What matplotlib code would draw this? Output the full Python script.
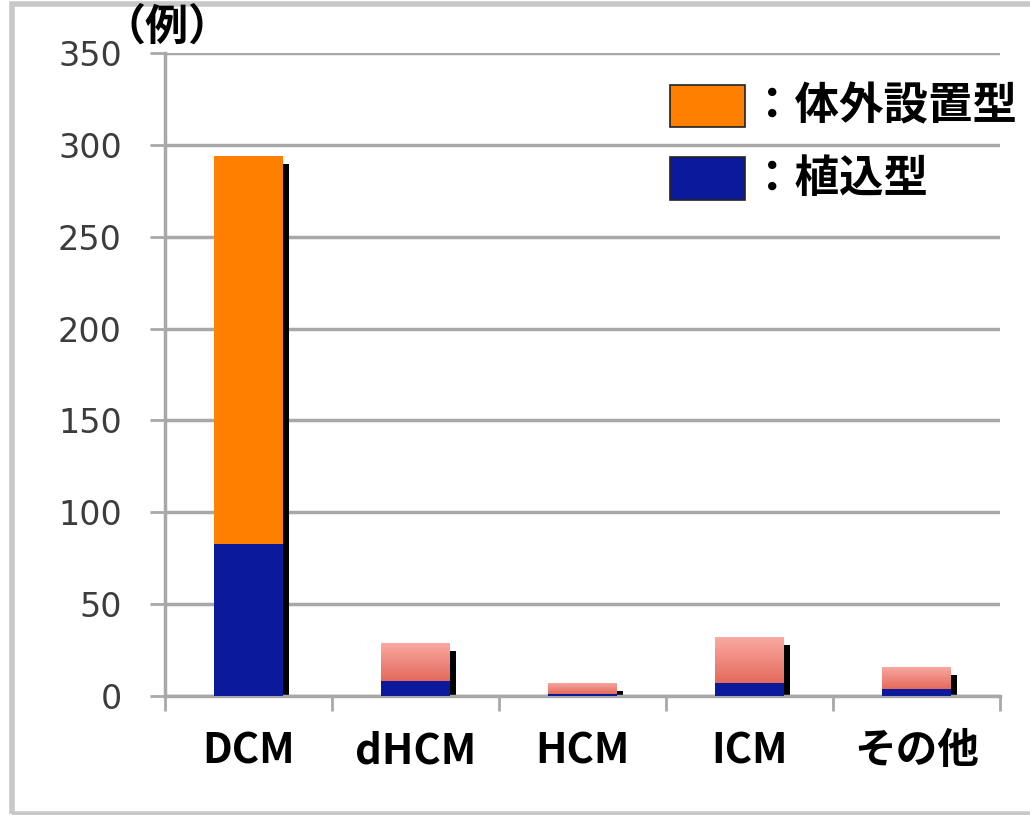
import matplotlib
matplotlib.use("Agg")
import matplotlib.pyplot as plt
import matplotlib.patheffects as pe
from matplotlib.patches import Rectangle
import numpy as np

categories = ["DCM", "dHCM", "HCM", "ICM", "その他"]
implant = [83, 8, 1, 7, 4]          # 植込型
external = [211, 21, 6, 25, 12]     # 体外設置型
yticks = [0, 50, 100, 150, 200, 250, 300, 350]
legend_labels = ["：体外設置型", "：植込型"]
unit_label = "（例）"

ORANGE = "#FF8000"
BLUE = "#0A1A9A"
GRID = "#A8A8A8"

plt.rcParams['font.family'] = ['DejaVu Sans', 'Noto Sans CJK JP']

fig = plt.figure(figsize=(10.3, 8.15), dpi=100)
ax = fig.add_axes([0.160, 0.146, 0.811, 0.789])

# figure border
fig.patches.append(Rectangle((12/1030, 1/815), 1.2, 1 - 5/815, transform=fig.transFigure,
                             fill=False, edgecolor="#C8C8C8", lw=4, zorder=0))

x = np.arange(len(categories))
w = 0.41
totals = np.array(implant) + np.array(external)

# shadow bars (total height) drawn behind
sh = ax.bar(x, totals, width=w, color="none", lw=0, zorder=2)
for p in sh:
    p.set_path_effects([pe.SimplePatchShadow(offset=(4.5, -5.8), shadow_rgbFace="black", alpha=1.0)])

lower = ax.bar(x, implant, width=w, color=BLUE, lw=0, zorder=3)
upper = ax.bar(x, external, bottom=implant, width=w, lw=0, zorder=3,
               color=[ORANGE] + ["none"] * (len(categories) - 1))

# gradient fill for the small upper segments
grad = np.linspace(0, 1, 256).reshape(-1, 1)
cmap = matplotlib.colors.LinearSegmentedColormap.from_list("pink", ["#E4695B", "#FAAAA3"])
for i, p in enumerate(upper):
    if i == 0:
        continue
    x0, y0 = p.get_x(), p.get_y()
    im = ax.imshow(grad, cmap=cmap, origin="lower", aspect="auto",
                   extent=[x0, x0 + p.get_width(), y0, y0 + p.get_height()], zorder=3)
    im.set_clip_path(p)
    p.set_zorder(1)

ax.set_xlim(-0.5, len(categories) - 0.5)
ax.set_ylim(0, 350)
ax.set_yticks(yticks)
ax.set_yticklabels([str(v) for v in yticks], fontsize=24, color="#3C3C3C")
ax.tick_params(axis="y", length=11, width=2, color=GRID, pad=20)
ax.yaxis.grid(True, color=GRID, lw=2.5, zorder=0)
ax.set_axisbelow(True)

ax.set_xticks(np.arange(-0.5, len(categories), 1.0))
ax.set_xticklabels([])
ax.tick_params(axis="x", length=11, width=2, color=GRID)
for i, c in enumerate(categories):
    ax.text(i, -30, c, ha="center", va="center", fontsize=30, fontweight="bold",
            family=['Noto Sans CJK JP'], transform=ax.transData, clip_on=False)

for s in ["top", "right"]:
    ax.spines[s].set_visible(False)
for s in ["left", "bottom"]:
    ax.spines[s].set_color(GRID)
    ax.spines[s].set_linewidth(2.5)

# legend drawn manually
handles = [(ORANGE, 0.950, 0.885), (BLUE, 0.838, 0.771)]
for (col, yt, yb), lab in zip(handles, legend_labels):
    ax.add_patch(Rectangle((0.605, yb), 0.090, yt - yb, transform=ax.transAxes,
                           facecolor=col, edgecolor="#222222", lw=1.2, zorder=5))
    ax.text(0.700, (yt + yb) / 2, lab, transform=ax.transAxes, ha="left", va="center",
            fontsize=32, fontweight="bold", family=['Noto Sans CJK JP'], zorder=5)

fig.text(167/1030, 1 - 27/815, unit_label, ha="center", va="center", fontsize=31,
         fontweight="bold", family=['Noto Sans CJK JP'])

fig.savefig("out.png", dpi=100)
